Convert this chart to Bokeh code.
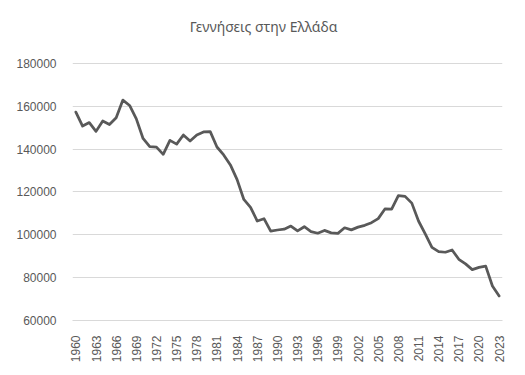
import math
from bokeh.plotting import figure
from bokeh.models import FixedTicker, BasicTickFormatter, Range1d, Label
from bokeh.embed import file_html
from bokeh.resources import INLINE

years = list(range(1960, 2024))
births = [157239, 150716, 152360, 148249, 153109, 151448, 154613, 162839, 160338, 154077,
          144928, 141126, 140891, 137526, 144069, 142273, 146566, 143739, 146588, 147965,
          148134, 140953, 137275, 132608, 125724, 116481, 112810, 106392, 107505, 101657,
          102229, 102620, 104081, 101799, 103763, 101495, 100718, 102038, 100894, 100643,
          103274, 102282, 103569, 104420, 105655, 107545, 112042, 111926, 118302, 117933,
          114766, 106428, 100371, 94134, 92149, 91847, 92898, 88553, 86440, 83756,
          84764, 85346, 76095, 71455]
x_ticks = years[::3]
y_ticks = [60000, 80000, 100000, 120000, 140000, 160000, 180000]
title_text = "Γεννήσεις στην Ελλάδα"

grey = "#595959"
# frame extended above 180000 to hold the title (no ticks/grid above 180000)
p = figure(width=509, height=365, output_backend="svg", toolbar_location=None,
           x_range=Range1d(1959.5, 2023.5), y_range=Range1d(60000, 204651),
           min_border_left=72, min_border_right=7, min_border_top=10, min_border_bottom=38)

p.add_layout(Label(x=191, y=294, x_units="screen", y_units="screen", text=title_text,
                   text_align="center", text_baseline="middle", text_font="Noto Sans",
                   text_font_size="14px", text_color=grey))

p.outline_line_color = None
p.xgrid.grid_line_color = None
p.ygrid.grid_line_color = "#d9d9d9"
p.ygrid.grid_line_width = 1

p.yaxis.ticker = FixedTicker(ticks=y_ticks)
p.yaxis.formatter = BasicTickFormatter(use_scientific=False)
p.yaxis.axis_line_color = None
p.xaxis.ticker = FixedTicker(ticks=x_ticks)
p.xaxis.axis_line_color = "#d9d9d9"
p.xaxis.major_label_orientation = math.pi / 2
for ax in (p.xaxis, p.yaxis):
    ax.major_tick_line_color = None
    ax.minor_tick_line_color = None
    ax.major_label_text_font = "Liberation Sans"
    ax.major_label_text_font_size = "12px"
    ax.major_label_text_color = grey
p.yaxis.major_label_standoff = 10
p.xaxis.major_label_standoff = 9

p.line(years, births, line_color=grey, line_width=2.75, line_join="round", line_cap="round")

open("out.html", "w").write(file_html(p, INLINE))
